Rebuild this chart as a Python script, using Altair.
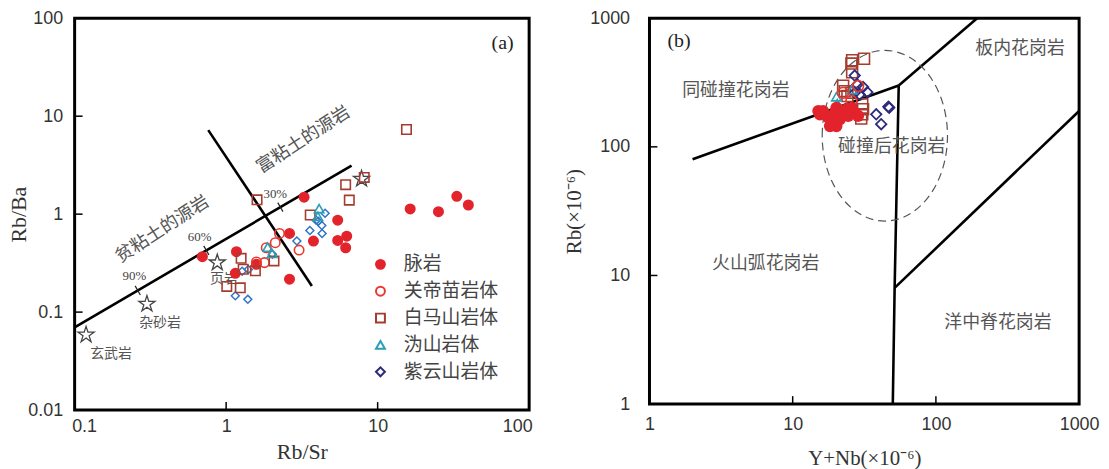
import altair as alt
import pandas as pd

CJK = "Noto Sans CJK SC"
SANS = "Liberation Sans"
SERIF = "Liberation Serif"

RED = "#e3232b"
RED_OPEN = "#e8382f"
BROWN = "#a43c30"
TEAL = "#2a9fb5"
NAVY = "#2d2a7c"
BLUE = "#2f74c6"
GREY = "#555555"

groups = ["脉岩", "关帝苗岩体", "白马山岩体", "沩山岩体", "紫云山岩体"]

# ---------------- panel (a): Rb/Sr vs Rb/Ba ----------------
a_vein_x = [0.697, 1.17, 1.15, 1.585, 2.62, 2.62, 3.27, 3.77, 5.45, 5.45, 6.25, 6.15, 16.4, 25.2, 33.3, 39.7]
a_vein_y = [0.368, 0.414, 0.249, 0.308, 0.635, 0.217, 1.49, 0.531, 0.867, 0.539, 0.596, 0.454, 1.13, 1.06, 1.52, 1.24]
a_gdm_x = [1.585, 1.79, 1.84, 2.11, 2.25, 3.03]
a_gdm_y = [0.325, 0.320, 0.454, 0.511, 0.635, 0.430]
a_bms_x = [1.60, 1.256, 1.295, 1.56, 1.01, 1.24, 2.07, 3.59, 6.15, 6.50, 8.16, 15.5]
a_bms_y = [1.40, 0.354, 0.274, 0.264, 0.183, 0.177, 0.333, 0.98, 2.0, 1.39, 2.37, 7.31]
a_ws_x = [1.88, 4.11, 2.01, 4.03]
a_ws_y = [0.461, 1.14, 0.398, 0.95]
a_zys_x = [1.15, 1.39, 1.276, 1.40, 2.02, 2.93, 3.57, 3.93, 4.28, 4.30, 4.50, 4.06]
a_zys_y = [0.147, 0.135, 0.261, 0.272, 0.389, 0.531, 0.681, 0.867, 0.766, 0.635, 1.02, 0.847]

a_line_seg = ["mix", "mix", "div", "div"]
a_line_x = [0.1, 6.73, 0.762, 3.68]
a_line_y = [0.070, 3.13, 7.2, 0.185]

a_star_x = [0.119, 0.30, 0.874, 7.83]
a_star_y = [0.0586, 0.121, 0.32, 2.29]
a_star_text = ["玄武岩", "杂砂岩", "页岩"]
a_star_text_x = [0.174, 0.366, 0.967]
a_star_text_y = [0.037, 0.0776, 0.217]

a_pct_text = ["90%", "60%", "30%"]
a_pct_x = [0.248, 0.669, 2.11]
a_pct_y = [0.234, 0.587, 1.60]
a_pct_tick_x = [0.261, 0.74, 2.28]
a_pct_tick_y = [0.1665, 0.427, 1.18]

a_region_text = ["贫粘土的源岩", "富粘土的源岩"]
a_region_x = [0.38, 3.24]
a_region_y = [0.697, 5.70]

a_xticks = [1, 10]
a_yticks = [0.1, 1, 10]
a_xlabels = [0.1, 1, 10, 100]
a_ylabels = [0.01, 0.1, 1, 10, 100]

# ---------------- panel (b): Y+Nb vs Rb ----------------
b_vein_x = [15.5, 16.3, 17.7, 19.2, 20.2, 19.7, 21.9, 23.7, 25.7, 27.1, 28.6, 21.3, 24.4, 18.2, 15.1, 20.2]
b_vein_y = [179, 190, 169, 154, 145, 184, 190, 196, 201, 184, 174, 163, 174, 145, 190, 201]
b_gdm_x = [28.6, 22.5, 25.7]
b_gdm_y = [297, 263, 227]
b_bms_x = [26.0, 25.7, 31.5, 26.0, 22.5, 23.1, 24.1, 25.7, 30.6, 31.0, 30.6, 30.1]
b_bms_y = [471, 444, 484, 380, 299, 271, 248, 263, 214, 196, 179, 166]
b_ws_x = [20.2, 26.0, 20.5]
b_ws_y = [245, 279, 217]
b_zys_x = [27.1, 28.3, 31.0, 33.2, 29.3, 27.1, 38.3, 41.5, 46.6, 47.2]
b_zys_y = [358, 305, 292, 266, 255, 263, 179, 150, 205, 201]

b_line_seg = ["a", "a", "b", "b", "c", "c", "c", "d", "d"]
b_line_x = [2, 55, 55, 194, 55, 51.5, 50, 51.5, 1000]
b_line_y = [80, 300, 300, 1000, 300, 8, 1, 8, 190]

b_ellipse_x = [44]
b_ellipse_y = [122]

b_region_text = ["同碰撞花岗岩", "板内花岗岩", "碰撞后花岗岩", "火山弧花岗岩", "洋中脊花岗岩"]
b_region_x = [4.01, 387, 49.2, 6.48, 271]
b_region_y = [271, 579, 100, 12.2, 4.25]

b_ticks = [10, 100]
b_labels = [1, 10, 100, 1000]

# ---------------- layout ----------------
W_A, H_A = 457, 394
W_B, H_B = 432, 388

sx_a = alt.Scale(type="log", domain=[0.1, 100])
sy_a = alt.Scale(type="log", domain=[0.01, 100])
sx_b = alt.Scale(type="log", domain=[1, 1000])
sy_b = alt.Scale(type="log", domain=[1, 1000])

STAR = ("M0,-1L0.2245,-0.309L0.951,-0.309L0.363,0.118L0.588,0.809L0,0.382"
        "L-0.588,0.809L-0.363,0.118L-0.951,-0.309L-0.2245,-0.309Z")
TICK = "M0,-1L0,1"
ELLIPSE = ("M-0.734,0C-0.734,-0.552,-0.405,-1,0,-1C0.405,-1,0.734,-0.552,0.734,0"
           "C0.734,0.552,0.405,1,0,1C-0.405,1,-0.734,0.552,-0.734,0Z")


def axis(values, title, label_pad, title_pad, title_size, flush=False, flush_off=0):
    kw = dict(values=values, format="~g", ticks=False, domain=False, grid=False,
              labelFont=SANS, labelFontSize=18, labelColor="#333",
              labelPadding=label_pad, labelFlush=flush,
              title=title, titleFont=SERIF, titleFontSize=title_size,
              titleFontWeight="normal", titleColor="#333", titlePadding=title_pad)
    if flush:
        kw["labelFlushOffset"] = flush_off
    return alt.Axis(**kw)


ax_a_x = axis(a_xlabels, "Rb/Sr", 8, 6, 22, flush=True, flush_off=3)
ax_a_y = axis(a_ylabels, "Rb/Ba", 12, -3, 22)
ax_b_x = axis(b_labels, "Y+Nb(×10⁻⁶)", 12, 14, 21)
ax_b_y = axis(b_labels, "Rb(×10⁻⁶)", 20, 5, 21)


def XA():
    return alt.X("x:Q", scale=sx_a, axis=ax_a_x)


def YA():
    return alt.Y("y:Q", scale=sy_a, axis=ax_a_y)


def XB():
    return alt.X("x:Q", scale=sx_b, axis=ax_b_x)


def YB():
    return alt.Y("y:Q", scale=sy_b, axis=ax_b_y)


# ---- panel a layers ----
lines_a = alt.Chart(pd.DataFrame({"seg": a_line_seg, "x": a_line_x, "y": a_line_y})).mark_line(
    color="black", strokeWidth=2.6).encode(detail="seg:N", x=XA(), y=YA())

pct_ticks = alt.Chart(pd.DataFrame({"x": a_pct_tick_x, "y": a_pct_tick_y})).mark_point(
    shape=TICK, angle=330, size=110, stroke="#222", strokeWidth=1.2, opacity=1).encode(x=XA(), y=YA())

pct_text = alt.Chart(pd.DataFrame({"x": a_pct_x, "y": a_pct_y, "t": a_pct_text})).mark_text(
    font=SERIF, fontSize=13, color="#444").encode(text="t:N", x=XA(), y=YA())

region_a = alt.Chart(pd.DataFrame({"x": a_region_x, "y": a_region_y, "t": a_region_text})).mark_text(
    font=CJK, fontSize=18, color=GREY, angle=327).encode(text="t:N", x=XA(), y=YA())

stars = alt.Chart(pd.DataFrame({"x": a_star_x, "y": a_star_y})).mark_point(
    shape=STAR, size=290, stroke="#444", strokeWidth=1.3, fill="white", fillOpacity=0, opacity=1).encode(
    x=XA(), y=YA())

star_text = alt.Chart(pd.DataFrame({"x": a_star_text_x, "y": a_star_text_y, "t": a_star_text})).mark_text(
    font=CJK, fontSize=14, color=GREY).encode(text="t:N", x=XA(), y=YA())

label_a = alt.Chart(pd.DataFrame({"x": [66.8], "y": [55.7], "t": ["(a)"]})).mark_text(
    font=SERIF, fontSize=20, color="#222").encode(text="t:N", x=XA(), y=YA())

ticks_ax = alt.Chart(pd.DataFrame({"x": a_xticks})).mark_rule(color="black", strokeWidth=1.5).encode(
    x=XA(), y=alt.value(H_A), y2=alt.value(H_A - 8))
ticks_ay = alt.Chart(pd.DataFrame({"y": a_yticks})).mark_rule(color="black", strokeWidth=1.5).encode(
    y=YA(), x=alt.value(0), x2=alt.value(8))

zys_a = alt.Chart(pd.DataFrame({"x": a_zys_x, "y": a_zys_y})).mark_point(
    shape="diamond", size=64, stroke=BLUE, fill="white", fillOpacity=0, strokeWidth=1.5, opacity=1).encode(
    x=XA(), y=YA())

rows = []
for g, xs, ys in [(groups[0], a_vein_x, a_vein_y), (groups[1], a_gdm_x, a_gdm_y),
                  (groups[2], a_bms_x, a_bms_y), (groups[3], a_ws_x, a_ws_y)]:
    for xv, yv in zip(xs, ys):
        rows.append({"x": xv, "y": yv, "group": g})
df_a = pd.DataFrame(rows)

shapes = ["circle", "circle", "square", "triangle-up", "diamond"]
strokes = [RED, RED_OPEN, BROWN, TEAL, NAVY]
fills = [RED, "transparent", "transparent", "transparent", "transparent"]

leg = alt.Legend(title=None, orient="none", legendX=298, legendY=238, padding=0,
                 labelFont=CJK, labelFontSize=19, labelColor="#444", labelOffset=14,
                 symbolSize=80, symbolStrokeWidth=2, rowPadding=7)

pts_a = alt.Chart(df_a).mark_point(size=90, strokeWidth=1.6, opacity=1).encode(
    x=XA(), y=YA(),
    shape=alt.Shape("group:N", scale=alt.Scale(domain=groups, range=shapes), legend=leg),
    stroke=alt.Stroke("group:N", scale=alt.Scale(domain=groups, range=strokes), legend=leg),
    fill=alt.Fill("group:N", scale=alt.Scale(domain=groups, range=fills), legend=leg),
)

panel_a = alt.layer(lines_a, pct_ticks, pct_text, region_a, stars, star_text, label_a,
                    ticks_ax, ticks_ay, zys_a, pts_a).properties(width=W_A, height=H_A)

# ---- panel b layers ----
lines_b = alt.Chart(pd.DataFrame({"seg": b_line_seg, "x": b_line_x, "y": b_line_y,
                                  "o": list(range(len(b_line_x)))})).mark_line(
    color="black", strokeWidth=2.6).encode(detail="seg:N", order="o:Q", x=XB(), y=YB())

ellipse = alt.Chart(pd.DataFrame({"x": b_ellipse_x, "y": b_ellipse_y})).mark_point(
    shape=ELLIPSE, size=29450, stroke="#555", strokeWidth=1.2, strokeDash=[8, 5],
    fill="white", fillOpacity=0, opacity=1).encode(x=XB(), y=YB())

region_b = alt.Chart(pd.DataFrame({"x": b_region_x, "y": b_region_y, "t": b_region_text})).mark_text(
    font=CJK, fontSize=18, color=GREY).encode(text="t:N", x=XB(), y=YB())

label_b = alt.Chart(pd.DataFrame({"x": [1.61], "y": [664], "t": ["(b)"]})).mark_text(
    font=SERIF, fontSize=20, color="#222").encode(text="t:N", x=XB(), y=YB())

ticks_bx = alt.Chart(pd.DataFrame({"x": b_ticks})).mark_rule(color="black", strokeWidth=1.5).encode(
    x=XB(), y=alt.value(H_B), y2=alt.value(H_B - 8))
ticks_by = alt.Chart(pd.DataFrame({"y": b_ticks})).mark_rule(color="black", strokeWidth=1.5).encode(
    y=YB(), x=alt.value(0), x2=alt.value(8))


def grp(xs, ys, shape, color, filled, size, sw):
    return alt.Chart(pd.DataFrame({"x": xs, "y": ys})).mark_point(
        shape=shape, color=color, filled=filled, size=size, strokeWidth=sw, opacity=1).encode(
        x=XB(), y=YB())


pts_b = [
    grp(b_bms_x, b_bms_y, "square", BROWN, False, 120, 1.6),
    grp(b_zys_x, b_zys_y, "diamond", NAVY, False, 110, 1.8),
    grp(b_ws_x, b_ws_y, "triangle-up", TEAL, False, 90, 1.6),
    grp(b_gdm_x, b_gdm_y, "circle", RED_OPEN, False, 120, 1.6),
    grp(b_vein_x, b_vein_y, "circle", RED, True, 150, 1),
]

panel_b = alt.layer(lines_b, ellipse, region_b, label_b, ticks_bx, ticks_by, *pts_b).properties(
    width=W_B, height=H_B)

chart = alt.hconcat(panel_a, panel_b, spacing=28).resolve_scale(
    shape="independent", stroke="independent", fill="independent"
).properties(
    padding={"left": -2, "top": -2, "right": 0, "bottom": 0}, background="white"
).configure_view(stroke="black", strokeWidth=3)

chart.save("out.html", embed_options={"renderer": "svg", "actions": False})
